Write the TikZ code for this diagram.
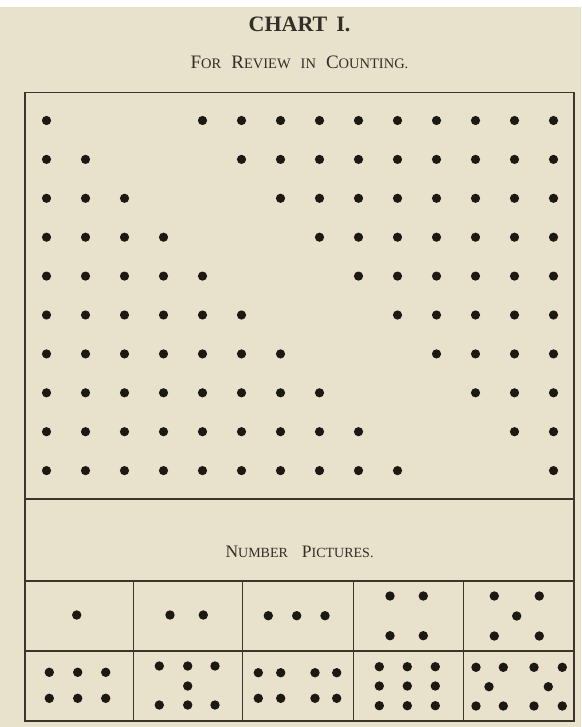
\documentclass[tikz,border=0pt]{standalone}
\usepackage{fontspec}
\setmainfont{Liberation Serif}
\definecolor{paper}{RGB}{232,225,203}
\definecolor{rule}{RGB}{58,54,44}
\definecolor{dotc}{RGB}{28,24,18}
\definecolor{ink}{RGB}{50,46,40}
\newcommand\tcapL[1]{{\fontsize{19}{19}\selectfont #1}}
\newcommand\tcapS[1]{{\fontsize{14.5}{14.5}\selectfont #1}}
\newcommand\ncapL[1]{{\fontsize{17.5}{17.5}\selectfont #1}}
\newcommand\ncapS[1]{{\fontsize{14}{14}\selectfont #1}}
\tikzset{
  frameline/.style={draw=rule, line width=1.8pt},
  divline/.style={draw=rule, line width=1.3pt},
  dotfill/.style={fill=dotc},
  label/.style={text=ink, inner sep=0pt, anchor=base}
}
\begin{document}
\begin{tikzpicture}[x=1pt,y=-1pt]
\useasboundingbox (0,0) rectangle (581,727);
\fill[paper] (0,0) rectangle (581,727);
\fill[white] (0,0) rectangle (581,7);
% titles
\node[label, font=\bfseries\fontsize{22}{22}\selectfont] (title) at (299.5,31.7) {CHART\hspace{9pt}I.};
\node[label] (subtitle) at (299.5,68.3) {\tcapL{F}\tcapS{OR}\hspace{10pt}\tcapL{R}\tcapS{EVIEW}\hspace{10pt}\tcapS{IN}\hspace{10pt}\tcapL{C}\tcapS{OUNTING.}};
% frame
\draw[frameline] (25,92.5) rectangle (574,721);
\draw[divline] (25,499) -- (574,499);
\draw[divline] (25,581) -- (574,581);
\draw[divline] (25,651) -- (574,651);
\foreach \x in {133.3,242.7,353.3,463.3}
  \draw[divline] (\x,581) -- (\x,721);
\node[label] (numpics) at (299.5,557) {\ncapL{N}\ncapS{UMBER}\hspace{14pt}\ncapL{P}\ncapS{ICTURES.}};
% counting grid
\foreach \r in {1,...,10} {
  \foreach \c in {1,...,\r}
    \fill[dotfill] ({46.5+(\c-1)*39},{120.5+(\r-1)*38.9}) circle (4.6);
  \pgfmathtruncatemacro\s{\r+4}
  \foreach \c in {\s,...,14}
    \fill[dotfill] ({46.5+(\c-1)*39},{120.5+(\r-1)*38.9}) circle (4.6);
}
% number pictures
\foreach \p in {
  {76.7,615},
  {170,615},{203.3,615},
  {268.3,615.7},{296.7,615.7},{325,615.7},
  {390,596},{423.3,596},{390,635.7},{423.3,635.7},
  {494.3,596},{539.3,596},{516.7,616},{494.3,636},{539.3,636},
  {49.3,672.3},{77.7,672.3},{105.7,672.3},{49.3,698.3},{77.7,698.3},{105.7,698.3},
  {159.3,666},{187.7,666},{215,666},{187.7,686},{159.3,705},{187.7,705},{215,705},
  {258.3,672.7},{280.7,672.7},{315,672.7},{336.7,672.7},{258.3,698.3},{280.7,698.3},{315,698.3},{336.7,698.3},
  {379.3,666.7},{407.3,666.7},{435.3,666.7},{379.3,686},{407.3,686},{435.3,686},{379.3,705.7},{407.3,705.7},{435.3,705.7},
  {476,667.3},{503.3,667.3},{534,667.3},{562.3,667.3},{489,686.7},{548.3,686.7},{476,706},{503.3,706},{534,706},{562.3,706}}
  \fill[dotfill] (\p) circle (4.7);
\end{tikzpicture}
\end{document}
